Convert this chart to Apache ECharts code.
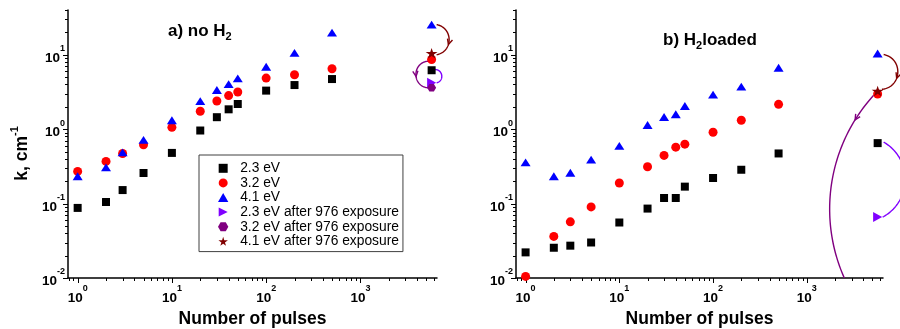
<!DOCTYPE html>
<html>
<head>
<meta charset="utf-8">
<script src="https://cdn.jsdelivr.net/npm/echarts@6/dist/echarts.min.js"></script>
<style>html,body{margin:0;padding:0;background:#fff}#c{width:900px;height:329px}</style>
</head>
<body>
<div id="c"></div>
<script>
// ---------------- data ----------------
const pulses = [1, 2, 3, 5, 10, 20, 30, 40, 50, 100, 200, 500, 5700];
const afterPulses = 5700;
const seriesNames = ['2.3 eV', '3.2 eV', '4.1 eV',
  '2.3 eV after 976 exposure', '3.2 eV after 976 exposure', '4.1 eV after 976 exposure'];

// panel a) no H2
const a_23eV = [0.0875, 0.105, 0.152, 0.258, 0.48, 0.96, 1.45, 1.85, 2.18, 3.3, 3.92, 4.72, 6.2];
const a_32eV = [0.271, 0.369, 0.472, 0.616, 1.06, 1.74, 2.39, 2.83, 3.16, 4.86, 5.4, 6.5, 8.65];
const a_41eV = [0.233, 0.307, 0.488, 0.72, 1.32, 2.39, 3.36, 4.04, 4.82, 6.9, 10.6, 19.9, 25.4];
const a_after = [4.2, 3.6, 10.5];   // 2.3, 3.2, 4.1 eV after 976 exposure

// panel b) H2 loaded
const b_23eV = [0.0221, 0.0255, 0.0272, 0.030, 0.0557, 0.0857, 0.119, 0.119, 0.169, 0.221, 0.285, 0.472, 0.65];
const b_32eV = [0.0105, 0.0362, 0.0569, 0.0903, 0.189, 0.313, 0.444, 0.574, 0.63, 0.91, 1.32, 2.16, 2.97];
const b_41eV = [0.358, 0.233, 0.26, 0.389, 0.598, 1.14, 1.46, 1.59, 2.05, 2.91, 3.73, 6.7, 10.4];
const b_after = [0.0658, 0.0025, 3.26];

// axes
const xMin = 0.79, xMax = 6500, yMin = 0.01, yMax = 40;
const xLabelExps = [0, 1, 2, 3];
const yLabelExps = [-2, -1, 0, 1];
const tickMultipliers = [1, 2, 3, 4, 5, 6, 7, 8, 9];

// ---------------- styling ----------------
const FONT = "'Liberation Sans', Arial, Helvetica, sans-serif";
const colors = ['#000000', '#ff0000', '#0000ff', '#8000ff', '#800080', '#800000'];
const symbols = [
  'path://M0,0 L100,0 L100,100 L0,100 Z',
  'circle',
  'path://M50,0 L100,87 L0,87 Z',
  'path://M0,0 L100,50 L0,100 Z',
  'path://M25,0 L75,0 L100,43 L75,87 L25,87 L0,43 Z',
  'path://M50,0 L61,35 L98,35 L68,57 L79,91 L50,70 L21,91 L32,57 L2,35 L39,35 Z'];
const symbolSizes = [8, 9, [10, 9], [9, 10], [9, 8.5], [12, 11]];

// arrow styling (offsets from marker centres in px, bulge in px, head position)
const arrowStyleA = [
  {color: '#800000', s: [5, 0], e: [5, 1.5], h: 12.5, head: 0.62, clip: false},
  {color: '#800080', s: [-3.4, 1.7], e: [-3.4, 0], h: -12.3, head: 0.55, clip: false},
  {color: '#8000ff', s: [3.3, -0.7], e: [5, 0], h: 6, head: null, clip: false}
];
const arrowStyleB = [
  {color: '#800000', s: [6, 1], e: [4.3, -1.7], h: 15, head: 0.62, clip: false},
  {color: '#800080', s: [-4, 1.3], e: [-4, 0], h: -44, head: 0.12, clip: true},
  {color: '#8000ff', s: [6, -1], e: [5, 0], h: 22, head: null, clip: false}
];

function labelFmt(allowed) {
  return function (v) {
    const l = Math.log10(v);
    const e = Math.round(l);
    if (Math.abs(l - e) > 1e-6 || allowed.indexOf(e) < 0) return '';
    return '{b|10}{s|' + e + '}';
  };
}
const labelRich = {
  b: {fontSize: 13.5, fontWeight: 'bold', fontFamily: FONT, color: '#000', lineHeight: 21, verticalAlign: 'bottom'},
  s: {fontSize: 9, fontWeight: 'bold', fontFamily: FONT, color: '#000', lineHeight: 10, verticalAlign: 'top'}
};

function tickData() {
  const d = [];
  for (let e = -3; e <= 4; e++) {
    tickMultipliers.forEach(m => {
      const v = m * Math.pow(10, e);
      if (v >= xMin && v <= xMax) d.push([v, yMin, m === 1 ? 0 : 1]);
      if (v >= yMin * 0.9999 && v <= yMax * 1.0001) d.push([xMin, v, m === 1 ? 2 : 3]);
    });
  }
  return d;
}
function renderTick(params, api) {
  const cs = params.coordSys;
  const kind = api.value(2);
  const p = api.coord([api.value(0), api.value(1)]);
  const len = (kind === 0 || kind === 2) ? 5 : 3;
  if (kind < 2) {
    const x = Math.round(p[0]) + 0.5, y0 = cs.y + cs.height;
    return {type: 'line', shape: {x1: x, y1: y0, x2: x, y2: y0 + len}, style: {stroke: '#000', lineWidth: 1}};
  }
  const y = Math.round(p[1]) + 0.5, x0 = cs.x;
  return {type: 'line', shape: {x1: x0 - len, y1: y, x2: x0, y2: y}, style: {stroke: '#000', lineWidth: 1}};
}

function makeArrowRenderer(styles) {
  return function (params, api) {
    const st = styles[params.dataIndex];
    const cs = params.coordSys;
    const p1 = api.coord([api.value(0), api.value(1)]);
    const p2 = api.coord([api.value(2), api.value(3)]);
    const S = [p1[0] + st.s[0], p1[1] + st.s[1]];
    const E = [p2[0] + st.e[0], p2[1] + st.e[1]];
    const dx = E[0] - S[0], dy = E[1] - S[1];
    const c = Math.hypot(dx, dy);
    const ux = dx / c, uy = dy / c;
    const nx = uy, ny = -ux;
    const ah = Math.abs(st.h), sg = Math.sign(st.h);
    const th = 4 * Math.atan(2 * ah / c);
    const R = (c * c / 4 + ah * ah) / (2 * ah);
    const k = 4 / 3 * Math.tan(th / 4) * R;
    const ca = Math.cos(th / 2), sa = Math.sin(th / 2);
    const t1 = [ca * ux + sa * nx * sg, ca * uy + sa * ny * sg];
    const t2 = [ca * ux - sa * nx * sg, ca * uy - sa * ny * sg];
    const C1 = [S[0] + k * t1[0], S[1] + k * t1[1]];
    const C2 = [E[0] - k * t2[0], E[1] - k * t2[1]];
    const B = t => {
      const a = (1 - t) * (1 - t) * (1 - t), b = 3 * (1 - t) * (1 - t) * t, q = 3 * (1 - t) * t * t, d = t * t * t;
      return [a * S[0] + b * C1[0] + q * C2[0] + d * E[0], a * S[1] + b * C1[1] + q * C2[1] + d * E[1]];
    };
    const dB = t => {
      const a = 3 * (1 - t) * (1 - t), b = 6 * (1 - t) * t, q = 3 * t * t;
      return [a * (C1[0] - S[0]) + b * (C2[0] - C1[0]) + q * (E[0] - C2[0]),
              a * (C1[1] - S[1]) + b * (C2[1] - C1[1]) + q * (E[1] - C2[1])];
    };
    const bottom = cs.y + cs.height;
    const pts = [];
    const N = 80;
    for (let i = 0; i <= N; i++) {
      const p = B(i / N);
      if (st.clip && p[1] > bottom) {
        const prev = pts[pts.length - 1];
        if (prev) {
          const f = (bottom - prev[1]) / (p[1] - prev[1]);
          pts.push([prev[0] + f * (p[0] - prev[0]), bottom]);
        }
        break;
      }
      pts.push(p);
    }
    const children = [{type: 'polyline', shape: {points: pts},
      style: {stroke: st.color, lineWidth: 1.4, fill: null}}];
    if (st.head != null) {
      const tip = B(st.head);
      const d = dB(st.head);
      const L = Math.hypot(d[0], d[1]);
      const dxn = d[0] / L, dyn = d[1] / L;
      const len = 6, ang = 0.45;
      const rot = (a) => [-(dxn * Math.cos(a) - dyn * Math.sin(a)) * len, -(dxn * Math.sin(a) + dyn * Math.cos(a)) * len];
      const l1 = rot(ang), l2 = rot(-ang);
      children.push({type: 'polyline',
        shape: {points: [[tip[0] + l1[0], tip[1] + l1[1]], tip, [tip[0] + l2[0], tip[1] + l2[1]]]},
        style: {stroke: st.color, lineWidth: 1.4, fill: null}});
    }
    return {type: 'group', children: children};
  };
}

function panelSeries(idx, d23, d32, d41, after, arrowStyles) {
  const main = [d23, d32, d41];
  const list = [];
  const arrows = [
    [afterPulses, d41[d41.length - 1], afterPulses, after[2]],
    [afterPulses, d32[d32.length - 1], afterPulses, after[1]],
    [afterPulses, d23[d23.length - 1], afterPulses, after[0]]
  ];
  list.push({type: 'custom', xAxisIndex: idx, yAxisIndex: idx, silent: true, clip: false, z: 1,
    data: tickData(), encode: {x: 0, y: 1}, renderItem: renderTick});
  list.push({type: 'custom', xAxisIndex: idx, yAxisIndex: idx, silent: true, clip: false, z: 2,
    data: arrows, encode: {x: [0, 2], y: [1, 3]}, renderItem: makeArrowRenderer(arrowStyles)});
  for (let i = 0; i < 3; i++) {
    list.push({type: 'scatter', name: seriesNames[i], xAxisIndex: idx, yAxisIndex: idx,
      symbol: symbols[i], symbolSize: symbolSizes[i], symbolKeepAspect: true,
      itemStyle: {color: colors[i], opacity: 1},
      data: pulses.map((p, j) => [p, main[i][j]]), z: 3, clip: true});
  }
  for (let i = 0; i < 3; i++) {
    list.push({type: 'scatter', name: seriesNames[3 + i], xAxisIndex: idx, yAxisIndex: idx,
      symbol: symbols[3 + i], symbolSize: symbolSizes[3 + i], symbolKeepAspect: true,
      itemStyle: {color: colors[3 + i], opacity: 1},
      data: [[afterPulses, after[i]]], z: 4, clip: true});
  }
  return list;
}

function xAxisCfg(idx) {
  return {type: 'log', logBase: 10, gridIndex: idx, min: xMin, max: xMax,
    axisLine: {show: true, onZero: false, lineStyle: {color: '#000', width: 1.5}},
    axisTick: {show: false}, minorTick: {show: false}, splitLine: {show: false},
    axisLabel: {margin: 6, formatter: labelFmt(xLabelExps), rich: labelRich, showMinLabel: true, showMaxLabel: true},
    name: 'Number of pulses', nameLocation: 'middle', nameGap: 26,
    nameTextStyle: {fontSize: 17.5, fontWeight: 'bold', color: '#000', fontFamily: FONT}};
}
function yAxisCfg(idx, withName) {
  const cfg = {type: 'log', logBase: 10, gridIndex: idx, min: yMin, max: yMax,
    axisLine: {show: true, onZero: false, lineStyle: {color: '#000', width: 1.5}},
    axisTick: {show: false}, minorTick: {show: false}, splitLine: {show: false},
    axisLabel: {margin: 3, formatter: labelFmt(yLabelExps), rich: labelRich, align: 'right'}};
  if (withName) {
    cfg.name = '{m|k, cm}{s|-1}';
    cfg.nameLocation = 'middle';
    cfg.nameGap = 37;
    cfg.nameTextStyle = {color: '#000', padding: [0, 19, 0, 0], rich: {
      m: {fontSize: 17.5, fontWeight: 'bold', fontFamily: FONT, color: '#000', lineHeight: 22, verticalAlign: 'bottom'},
      s: {fontSize: 11, fontWeight: 'bold', fontFamily: FONT, color: '#000', lineHeight: 11, verticalAlign: 'top'}}};
  }
  return cfg;
}

const titleRich = {
  m: {fontSize: 17, fontWeight: 'bold', fontFamily: FONT, color: '#000', lineHeight: 22, verticalAlign: 'middle'},
  s: {fontSize: 11, fontWeight: 'bold', fontFamily: FONT, color: '#000', lineHeight: 12, verticalAlign: 'bottom'}
};

const chart = echarts.init(document.getElementById('c'), null, {renderer: 'canvas'});
chart.setOption({
  animation: false,
  backgroundColor: '#fff',
  textStyle: {fontFamily: FONT},
  title: [
    {text: '{m|a) no H}{s|2}', left: 168, top: 20, padding: 0, textStyle: {rich: titleRich}},
    {text: '{m|b) H}{s|2}{m|loaded}', left: 663, top: 29.5, padding: 0, textStyle: {rich: titleRich}}
  ],
  legend: {
    orient: 'vertical', left: 199, top: 155, padding: [6, 4, 3, 19],
    borderColor: '#404040', borderWidth: 1, itemWidth: 24, itemHeight: 9, itemGap: 0,
    symbolKeepAspect: true,
    data: seriesNames,
    textStyle: {fontSize: 13.8, color: '#000', fontFamily: FONT, lineHeight: 14.6}
  },
  grid: [
    {left: 68, top: 10, width: 369, height: 268, containLabel: false, outerBoundsMode: 'none'},
    {left: 516, top: 10, width: 367, height: 268, containLabel: false, outerBoundsMode: 'none'}
  ],
  xAxis: [xAxisCfg(0), xAxisCfg(1)],
  yAxis: [yAxisCfg(0, true), yAxisCfg(1, false)],
  series: [].concat(
    panelSeries(0, a_23eV, a_32eV, a_41eV, a_after, arrowStyleA),
    panelSeries(1, b_23eV, b_32eV, b_41eV, b_after, arrowStyleB)
  )
});
</script>
</body>
</html>
